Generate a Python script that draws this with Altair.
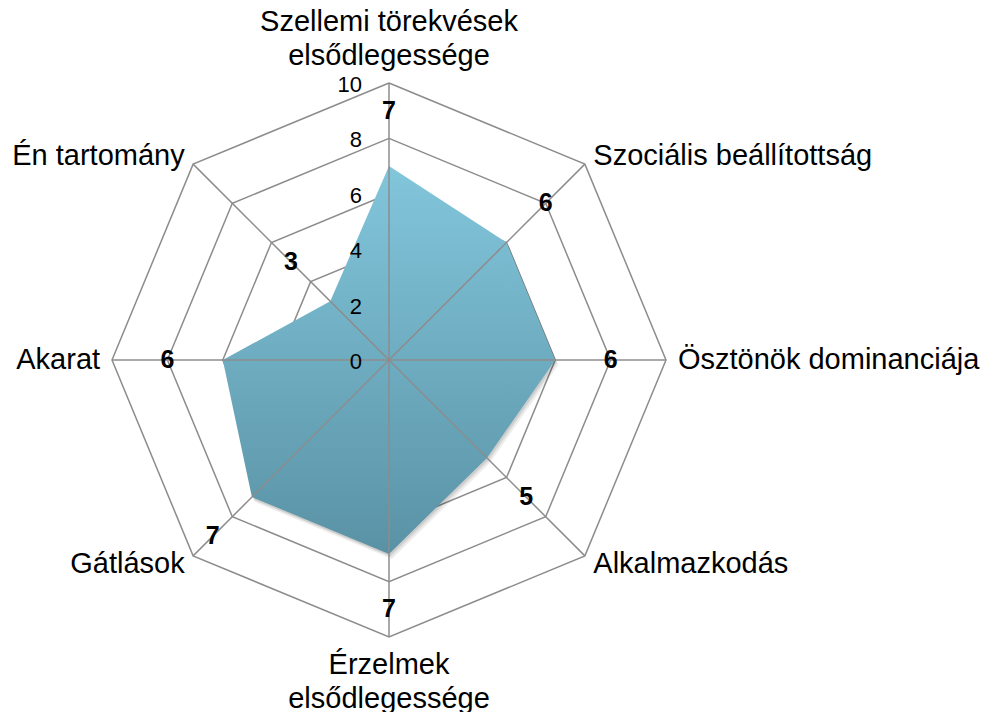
import altair as alt
import pandas as pd

# ---- data ----
categories = [
    "Szellemi törekvések\nelsődlegessége",
    "Szociális beállítottság",
    "Ösztönök dominanciája",
    "Alkalmazkodás",
    "Érzelmek\nelsődlegessége",
    "Gátlások",
    "Akarat",
    "Én tartomány",
]
values = [7, 6, 6, 5, 7, 7, 6, 3]
ring_levels = [2, 4, 6, 8, 10]
tick_values = [0, 2, 4, 6, 8, 10]
axis_max = 10

n = len(categories)
poly_df = pd.DataFrame({"k": list(range(n + 1)), "value": values + [values[0]]})
cat_df = pd.DataFrame({"k": list(range(n)), "category": categories, "value": values})
ring_df = pd.DataFrame([{"level": L, "k": k} for L in ring_levels for k in range(n + 1)])
spoke_df = pd.DataFrame([{"k": k, "r": r} for k in range(n) for r in (0, axis_max)])
tick_df = pd.DataFrame({"level": tick_values, "label": [str(t) for t in tick_values]})

ANG = f"(datum.k * 2 * PI / {n})"
xs = alt.Scale(domain=[-axis_max, axis_max], nice=False, zero=False)
ys = alt.Scale(domain=[-axis_max, axis_max], nice=False, zero=False)
X = lambda f: alt.X(f"{f}:Q", scale=xs, axis=None)
Y = lambda f: alt.Y(f"{f}:Q", scale=ys, axis=None)

GRID = "#8c8c8c"
FONT = "Liberation Sans"

rings = (
    alt.Chart(ring_df)
    .transform_calculate(px=f"datum.level * sin{ANG}", py=f"datum.level * cos{ANG}")
    .mark_line(stroke=GRID, strokeWidth=1.5)
    .encode(x=X("px"), y=Y("py"), detail="level:N", order="k:Q")
)

poly_base = alt.Chart(poly_df).transform_calculate(
    px=f"datum.value * sin{ANG}", py=f"datum.value * cos{ANG}"
)

shadows = [
    poly_base.mark_line(
        fill="#000000", fillOpacity=0.07, strokeOpacity=0, xOffset=ox, yOffset=oy
    ).encode(x=X("px"), y=Y("py"), order="k:Q")
    for ox, oy in [(1, 2), (2, 3), (3, 5)]
]

grad = alt.Gradient(
    gradient="linear",
    stops=[
        alt.GradientStop(color="#82c6dc", offset=0),
        alt.GradientStop(color="#5a92a5", offset=1),
    ],
    x1=0, x2=0, y1=0, y2=1,
)
area = poly_base.mark_line(fill=grad, strokeOpacity=0).encode(
    x=X("px"), y=Y("py"), order="k:Q"
)

spokes = (
    alt.Chart(spoke_df)
    .transform_calculate(px=f"datum.r * sin{ANG}", py=f"datum.r * cos{ANG}")
    .mark_line(stroke=GRID, strokeWidth=1.5)
    .encode(x=X("px"), y=Y("py"), detail="k:N", order="r:Q")
)

ticks = (
    alt.Chart(tick_df)
    .transform_calculate(px="0", py="datum.level")
    .mark_text(align="right", baseline="middle", dx=-27, dy=2, fontSize=22, font=FONT, color="#000")
    .encode(x=X("px"), y=Y("py"), text="label:N")
)

data_labels = (
    alt.Chart(cat_df)
    .transform_calculate(px=f"(datum.value + 2) * sin{ANG}", py=f"(datum.value + 2) * cos{ANG}")
    .mark_text(align="center", baseline="middle", fontSize=25, fontWeight="bold", font=FONT, color="#000")
    .encode(x=X("px"), y=Y("py"), text="value:Q")
)

cat_base = alt.Chart(cat_df).transform_calculate(
    s=f"sin{ANG}", c=f"cos{ANG}"
)
right_labels = (
    cat_base.transform_filter("datum.s > 0.1")
    .transform_calculate(px=f"{axis_max + 0.43} * datum.s", py=f"{axis_max + 0.43} * datum.c")
    .mark_text(align="left", baseline="middle", fontSize=29, font=FONT, color="#000")
    .encode(x=X("px"), y=Y("py"), text="category:N")
)
left_labels = (
    cat_base.transform_filter("datum.s < -0.1")
    .transform_calculate(px=f"{axis_max + 0.43} * datum.s", py=f"{axis_max + 0.43} * datum.c")
    .mark_text(align="right", baseline="middle", fontSize=29, font=FONT, color="#000")
    .encode(x=X("px"), y=Y("py"), text="category:N")
)
center_labels = (
    cat_base.transform_filter("abs(datum.s) <= 0.1")
    .transform_calculate(
        px="0",
        py=f"datum.c > 0 ? {axis_max + 2.2} : -{axis_max + 1.0}",
    )
    .mark_text(align="center", baseline="middle", fontSize=29, font=FONT, color="#000",
               lineBreak="\n", lineHeight=34)
    .encode(x=X("px"), y=Y("py"), text="category:N")
)

chart = (
    alt.layer(rings, *shadows, area, spokes, ticks, data_labels,
              right_labels, left_labels, center_labels)
    .properties(
        width=554,
        height=554,
        autosize=alt.AutoSizeParams(type="none"),
        padding={"left": 104, "top": 75, "right": 320, "bottom": 75},
    )
    .configure_view(stroke=None)
)

chart.save("out.html", embed_options={"renderer": "svg", "actions": False})
